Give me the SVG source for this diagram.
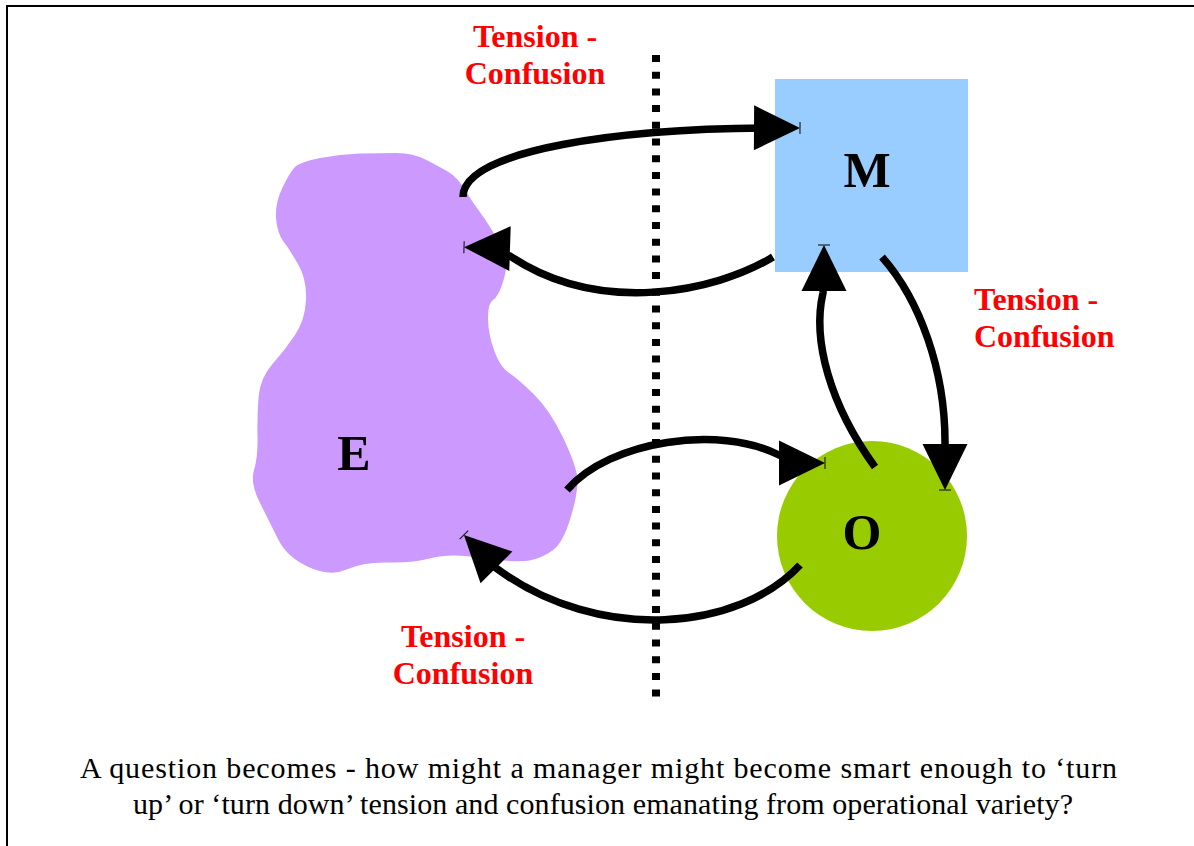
<svg xmlns="http://www.w3.org/2000/svg" width="1194" height="846" viewBox="0 0 1194 846">
<style>
.frame{fill:none;stroke:#000;stroke-width:2}
.lbl{font-family:"Liberation Serif","Times New Roman",serif;font-weight:bold;font-size:50px;fill:#000;text-anchor:middle}
.tc{font-family:"Liberation Serif","Times New Roman",serif;font-weight:bold;font-size:32px;fill:#FF0000}
.cap{font-family:"Liberation Serif","Times New Roman",serif;font-size:30px;fill:#000;text-anchor:middle}
.arr{fill:none;stroke:#000;stroke-width:7.5;stroke-linecap:butt;marker-end:url(#head)}
.divider{fill:none;stroke:#000;stroke-width:8;stroke-dasharray:7 9.7}
</style>
<defs>
<marker id="head" markerUnits="userSpaceOnUse" markerWidth="60" markerHeight="60" refX="36" refY="22.5" orient="auto" overflow="visible">
<path d="M0,0 L46,22.5 L0,45 Z" fill="#000"/>
<line x1="46" y1="16.5" x2="46" y2="28.5" stroke="#222" stroke-width="1.2"/>
</marker>
</defs>
<rect width="1194" height="846" fill="#fff"/>
<path class="frame" d="M7,846 L7,6 L1194,6"/>

<g id="node-E">
<path d="M320,158 Q300,162 295,167 Q290,172 282.5,187.5 Q275,203 276,218 Q277,233 283.5,241.5 Q290,250 298.5,265 Q307,280 306,300 Q305,320 295,335 Q285,350 272.5,364 Q260,378 258.5,397.5 Q257,417 257.5,437 Q258,457 254,470 Q250,483 260,503 Q270,523 278.5,540 Q287,557 308.5,567 Q330,577 346.5,569.5 Q363,562 388,562.5 Q413,563 431.5,558 Q450,553 483.5,558 Q517,563 529.5,560.5 Q542,558 552.5,550.5 Q563,543 570.5,518 Q578,493 577.5,480 Q577,467 563.5,438.5 Q550,410 533.5,394 Q517,378 508.5,372.5 Q500,367 494,350 Q488,333 488,318 Q488,303 493,300 Q498,297 502.5,283.5 Q507,270 506,261.5 Q505,253 496.5,238 Q488,223 480.5,213 Q473,203 465,190 Q457,177 448.5,172 Q440,167 426.5,160 Q413,153 396.5,153 Q380,153 360,153.5 Q340,154 320,158 Z" fill="#CC99FF"/>
<text class="lbl" x="354" y="470">E</text>
</g>

<g id="node-M">
<rect x="775" y="79" width="193" height="193" fill="#99CCFF"/>
<text class="lbl" x="867" y="187">M</text>
</g>

<g id="node-O">
<circle cx="872" cy="536" r="95" fill="#99CC00"/>
<text class="lbl" x="862" y="549">O</text>
</g>

<g id="divider">
<line class="divider" x1="656" y1="55" x2="656" y2="697"/>
</g>

<g id="connectors">
<path class="arr" d="M463,197 C463,150 620,127 790,128"/>
<path class="arr" d="M773,257 C715,292 600,316 510,256 Q490,248 474,247.5"/>
<path class="arr" d="M567,490 C610,440 720,425 779,455 Q800,463 815,463"/>
<path class="arr" d="M800,565 C740,630 600,645 496,568 Q482,553 471,542"/>
<path class="arr" d="M875,467 C830,405 812,340 823,293 Q824,270 824,255"/>
<path class="arr" d="M882,257 C920,300 945,370 945,442 L945,480"/>
</g>

<g id="labels">
<text class="tc" x="535" y="47" text-anchor="middle">Tension -</text>
<text class="tc" x="535" y="84" text-anchor="middle">Confusion</text>
<text class="tc" x="974" y="310">Tension -</text>
<text class="tc" x="974" y="347">Confusion</text>
<text class="tc" x="463" y="647" text-anchor="middle">Tension -</text>
<text class="tc" x="463" y="684" text-anchor="middle">Confusion</text>
</g>

<g id="caption">
<text class="cap" x="598.5" y="778" textLength="1037" lengthAdjust="spacing">A question becomes - how might a manager might become smart enough to ‘turn</text>
<text class="cap" x="603" y="814" textLength="940" lengthAdjust="spacing">up’ or ‘turn down’ tension and confusion emanating from operational variety?</text>
</g>
</svg>
